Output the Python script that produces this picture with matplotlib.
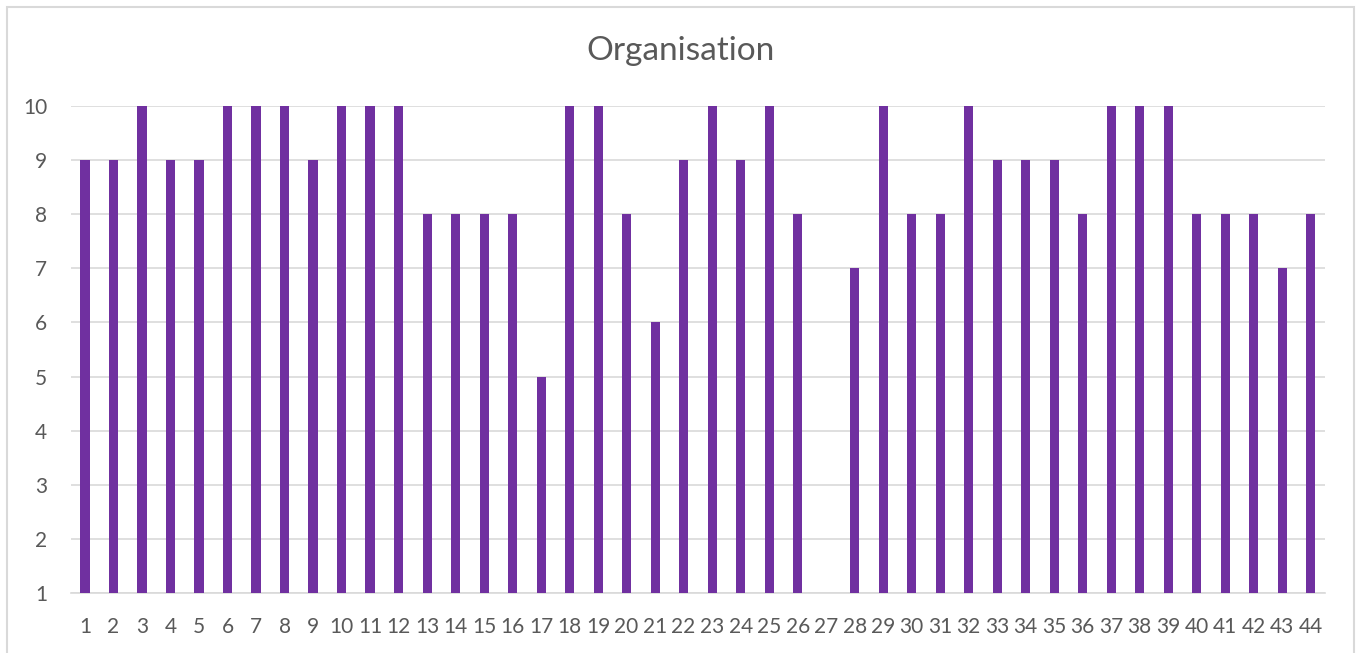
import matplotlib
matplotlib.use("Agg")
import matplotlib.pyplot as plt
from matplotlib.patches import Rectangle

categories = [str(i) for i in range(1, 45)]
values = [9, 9, 10, 9, 9, 10, 10, 10, 9, 10, 10, 10, 8, 8, 8, 8, 5, 10, 10, 8,
          6, 9, 10, 9, 10, 8, 1, 7, 10, 8, 8, 10, 9, 9, 9, 8, 10, 10, 10, 8,
          8, 8, 7, 8]
yticks = list(range(1, 11))
title = "Organisation"

plt.rcParams['font.family'] = ['Lato', 'DejaVu Sans']
W, H = 1362, 653
fig = plt.figure(figsize=(W / 100, H / 100), dpi=100)
fig.patch.set_facecolor('white')

# chart border (left, top, right)
fig.add_artist(Rectangle((6.5 / W, -0.1), (1354 - 6.5) / W, 1.1 - 7.5 / H,
                         transform=fig.transFigure, fill=False,
                         edgecolor='#D9D9D9', linewidth=1.5))

left, right = 70.75 / W, 1325 / W
bottom, top = (H - 593) / H, (H - 106) / H
ax = fig.add_axes([left, bottom, right - left, top - bottom])

x = list(range(1, len(values) + 1))
ax.bar(x, [v - 1 for v in values], bottom=1, width=0.32, color='#7030A0', zorder=3)

ax.set_xlim(0.5, len(values) + 0.5)
ax.set_ylim(1, 10)
ax.set_yticks(yticks)
ax.set_yticklabels([str(t) for t in yticks])
ax.set_xticks(x)
ax.set_xticklabels(categories)
ax.grid(axis='y', color='#D9D9D9', linewidth=1.2, zorder=0)
for s in ['top', 'right', 'left']:
    ax.spines[s].set_visible(False)
ax.spines['bottom'].set_color('#D9D9D9')
ax.spines['bottom'].set_linewidth(1.2)
ax.tick_params(axis='both', length=0, labelsize=15, colors='#595959')
ax.tick_params(axis='y', pad=17)
ax.tick_params(axis='x', pad=17)

fig.text(0.5, (H - 51) / H, title, ha='center', va='center', fontsize=24, color='#595959')

fig.savefig('out.png', dpi=100, facecolor='white')
